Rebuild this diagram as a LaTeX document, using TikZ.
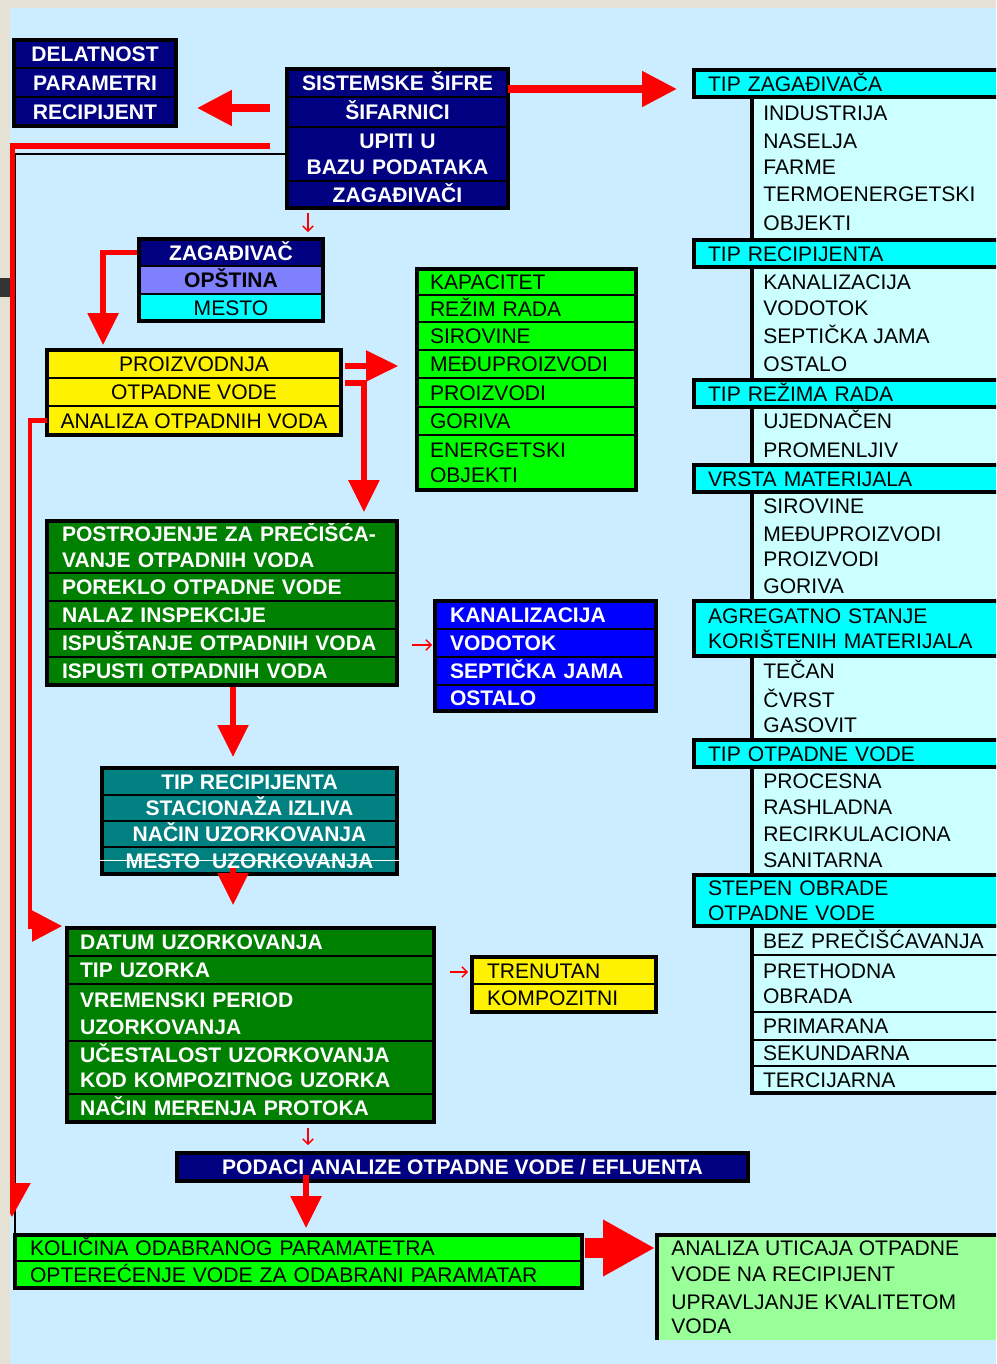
\documentclass[12pt,tikz,border=0pt]{standalone}
\usepackage{fontspec}
\setmainfont{Liberation Sans}
\usetikzlibrary{arrows.meta,positioning,fit}

\definecolor{skyback}{RGB}{204,236,255}
\definecolor{paper}{RGB}{229,225,212}
\definecolor{navy}{RGB}{0,0,128}
\definecolor{lilac}{RGB}{128,128,255}
\definecolor{aqua}{RGB}{0,255,255}
\definecolor{paleaqua}{RGB}{204,255,255}
\definecolor{lime}{RGB}{0,255,0}
\definecolor{darkgr}{RGB}{0,128,0}
\definecolor{tealgr}{RGB}{0,128,128}
\definecolor{palegr}{RGB}{153,255,153}

\tikzset{
  cell/.style = {draw, line width=0.8pt, inner ysep=0pt, outer sep=0pt, minimum height=0.56cm, text height=8.6pt, text depth=0pt},
  two/.style = {text depth=14.8pt},
  frame/.style = {draw, line width=2.2pt, inner sep=0pt},
  dprcell/.style = {cell, fill=navy, text=white, font=\bfseries, minimum width=3.24cm},
  sifcell/.style = {cell, fill=navy, text=white, font=\bfseries, text width=4.42cm, inner xsep=0pt, align=center},
  zagcell/.style = {cell, minimum width=3.68cm},
  prodcell/.style = {cell, fill=yellow, minimum width=5.88cm},
  capcell/.style = {cell, fill=lime, text width=3.86cm, inner xsep=0.26cm, align=left},
  plantcell/.style = {cell, fill=darkgr, text=white, font=\bfseries, text width=6.4cm, inner xsep=0.3cm, align=left},
  reccell/.style = {cell, fill=blue, text=white, font=\bfseries, text width=3.82cm, inner xsep=0.3cm, align=left},
  sampcell/.style = {cell, fill=tealgr, text=white, font=\bfseries, minimum width=5.9cm},
  datecell/.style = {cell, fill=darkgr, text=white, font=\bfseries, text width=6.82cm, inner xsep=0.26cm, align=left},
  kindcell/.style = {cell, fill=yellow, text width=3.08cm, inner xsep=0.3cm, align=left},
  loadcell/.style = {cell, fill=lime, text width=10.74cm, inner xsep=0.3cm, align=left},
  headcell/.style = {cell, fill=aqua, line width=2.2pt, text width=5.76cm, inner xsep=0.28cm, align=left},
  listcell/.style = {fill=paleaqua, minimum width=5.16cm, inner sep=0pt, outer sep=0pt},
  gradecell/.style = {cell, fill=paleaqua, text width=4.72cm, inner xsep=0.22cm, align=left},
  item/.style = {anchor=west, inner sep=0pt, text height=8.6pt, text depth=0pt},
  rule/.style = {line width=2.6pt},
  bigarrow/.style = {red, line width=4.5pt, -{Triangle[length=0.7cm, width=0.68cm]}},
  redarrow/.style = {red, line width=3.2pt, -{Triangle[length=0.64cm, width=0.6cm]}},
  smallarrow/.style = {red, line width=0.8pt, -{Straight Barb[length=3pt, width=6pt]}}
}

\begin{document}
\begin{tikzpicture}[x=0.02cm, y=-0.02cm]
\useasboundingbox (0,0) rectangle (996,1364);
\clip (0,0) rectangle (996,1364);
\fill[skyback] (0,0) rectangle (996,1364);

% right column
\node[listcell, minimum height=2.86cm] (lzag) at (881,168.5) {};
\node[listcell, minimum height=2.26cm] (lrec) at (881,323.5) {};
\node[listcell, minimum height=1.16cm] (lrezim) at (881,436) {};
\node[listcell, minimum height=2.18cm] (lvrsta) at (881,546.5) {};
\node[listcell, minimum height=1.68cm] (lagreg) at (881,698) {};
\node[listcell, minimum height=2.16cm] (lotpad) at (881,821) {};
\node[gradecell, minimum height=0.58cm] (bezpr) at (881,940.5) {BEZ PREČIŠĆAVANJA};
\node[gradecell, two, minimum height=1.14cm, below=0pt of bezpr] (prethodna) {PRETHODNA\\OBRADA};
\node[gradecell, below=0pt of prethodna] (primarna) {PRIMARANA};
\node[gradecell, minimum height=0.52cm, below=0pt of primarna] (sekundarna) {SEKUNDARNA};
\node[gradecell, minimum height=0.54cm, below=0pt of sekundarna] (tercijarna) {TERCIJARNA};

\draw[rule] (lzag.north west) -- (lzag.south west);
\draw[rule] (lrec.north west) -- (lrec.south west);
\draw[rule] (lrezim.north west) -- (lrezim.south west);
\draw[rule] (lvrsta.north west) -- (lvrsta.south west);
\draw[rule] (lagreg.north west) -- (lagreg.south west);
\draw[rule] (lotpad.north west) -- (lotpad.south west);
\draw[rule] (bezpr.north west) |- (tercijarna.south east);

\node[item] (industrija) at (763,113) {INDUSTRIJA};
\node[item] (naselja) at (763,141) {NASELJA};
\node[item] (farme) at (763,167) {FARME};
\node[item] (termo) at (763,194) {TERMOENERGETSKI};
\node[item] (objekti) at (763,223) {OBJEKTI};
\node[item] (kanal2) at (763,282) {KANALIZACIJA};
\node[item] (vodotok2) at (763,308) {VODOTOK};
\node[item] (septicka2) at (763,336) {SEPTIČKA JAMA};
\node[item] (ostalo2) at (763,364) {OSTALO};
\node[item] (ujednacen) at (763,421) {UJEDNAČEN};
\node[item] (promenljiv) at (763,450) {PROMENLJIV};
\node[item] (sirovine2) at (763,506) {SIROVINE};
\node[item] (medju2) at (763,534) {MEĐUPROIZVODI};
\node[item] (proizvodi2) at (763,559) {PROIZVODI};
\node[item] (goriva2) at (763,586) {GORIVA};
\node[item] (tecan) at (763,671) {TEČAN};
\node[item] (cvrst) at (763,700) {ČVRST};
\node[item] (gasovit) at (763,725) {GASOVIT};
\node[item] (procesna) at (763,781) {PROCESNA};
\node[item] (rashladna) at (763,807) {RASHLADNA};
\node[item] (recirk) at (763,834) {RECIRKULACIONA};
\node[item] (sanitarna) at (763,860) {SANITARNA};

\node[headcell, minimum height=0.54cm] (hzag) at (852,83.5) {TIP ZAGAĐIVAČA};
\node[headcell, minimum height=0.54cm] (hrec) at (852,253.5) {TIP RECIPIJENTA};
\node[headcell, minimum height=0.54cm] (hrezim) at (852,393.5) {TIP REŽIMA RADA};
\node[headcell, minimum height=0.54cm] (hvrsta) at (852,478.5) {VRSTA MATERIJALA};
\node[headcell, two, minimum height=1.1cm] (hagreg) at (852,628.5) {AGREGATNO STANJE\\KORIŠTENIH MATERIJALA};
\node[headcell, minimum height=0.54cm] (hotpad) at (852,753.5) {TIP OTPADNE VODE};
\node[headcell, two, minimum height=1.02cm] (hstepen) at (852,900.5) {STEPEN OBRADE\\OTPADNE VODE};

% left column
\node[dprcell] (delatnost) at (95,54) {DELATNOST};
\node[dprcell, minimum height=0.58cm, below=0pt of delatnost] (parametri) {PARAMETRI};
\node[dprcell, minimum height=0.58cm, below=0pt of parametri] (recipijent) {RECIPIJENT};
\node[frame, fit=(delatnost)(recipijent)] (dprbox) {};

\node[sifcell] (sistemske) at (397.5,83) {SISTEMSKE ŠIFRE};
\node[sifcell, minimum height=0.6cm, below=0pt of sistemske] (sifarnici) {ŠIFARNICI};
\node[sifcell, two, minimum height=1.08cm, below=0pt of sifarnici] (upiti) {UPITI U\\BAZU PODATAKA};
\node[sifcell, minimum height=0.54cm, below=0pt of upiti] (zagadjivaci) {ZAGAĐIVAČI};
\node[frame, fit=(sistemske)(zagadjivaci)] (sifbox) {};

\node[zagcell, fill=navy, text=white, font=\bfseries, minimum height=0.54cm] (zagadjivac) at (231,252.5) {ZAGAĐIVAČ};
\node[zagcell, fill=lilac, font=\bfseries, below=0pt of zagadjivac] (opstina) {OPŠTINA};
\node[zagcell, fill=aqua, minimum height=0.54cm, below=0pt of opstina] (mesto) {MESTO};
\node[frame, fit=(zagadjivac)(mesto)] (zagbox) {};

\node[prodcell] (proizvodnja) at (194,364) {PROIZVODNJA};
\node[prodcell, below=0pt of proizvodnja] (otpadne) {OTPADNE VODE};
\node[prodcell, minimum height=0.58cm, below=0pt of otpadne] (analiza) {ANALIZA OTPADNIH VODA};
\node[frame, fit=(proizvodnja)(analiza)] (prodbox) {};

\node[capcell, minimum height=0.52cm] (kapacitet) at (526.5,282) {KAPACITET};
\node[capcell, minimum height=0.54cm, below=0pt of kapacitet] (rezim) {REŽIM RADA};
\node[capcell, below=0pt of rezim] (sirovine) {SIROVINE};
\node[capcell, below=0pt of sirovine] (medjuproiz) {MEĐUPROIZVODI};
\node[capcell, minimum height=0.58cm, below=0pt of medjuproiz] (proizvodi) {PROIZVODI};
\node[capcell, below=0pt of proizvodi] (goriva) {GORIVA};
\node[capcell, two, minimum height=1.1cm, below=0pt of goriva] (energetski) {ENERGETSKI\\OBJEKTI};
\node[frame, fit=(kapacitet)(energetski)] (capbox) {};

\node[plantcell, two, minimum height=1.04cm] (postrojenje) at (222,547) {POSTROJENJE ZA PREČIŠĆA-\\VANJE OTPADNIH VODA};
\node[plantcell, below=0pt of postrojenje] (poreklo) {POREKLO OTPADNE VODE};
\node[plantcell, below=0pt of poreklo] (nalaz) {NALAZ INSPEKCIJE};
\node[plantcell, below=0pt of nalaz] (ispustanje) {ISPUŠTANJE OTPADNIH VODA};
\node[plantcell, below=0pt of ispustanje] (ispusti) {ISPUSTI OTPADNIH VODA};
\node[frame, fit=(postrojenje)(ispusti)] (plantbox) {};

\node[reccell] (kanalizacija) at (545.5,615) {KANALIZACIJA};
\node[reccell, below=0pt of kanalizacija] (vodotok) {VODOTOK};
\node[reccell, below=0pt of vodotok] (septicka) {SEPTIČKA JAMA};
\node[reccell, minimum height=0.52cm, below=0pt of septicka] (ostalo) {OSTALO};
\node[frame, fit=(kanalizacija)(ostalo)] (recbox) {};

\node[sampcell, minimum height=0.54cm] (tiprec) at (249.5,781.5) {TIP RECIPIJENTA};
\node[sampcell, minimum height=0.52cm, below=0pt of tiprec] (stacionaza) {STACIONAŽA IZLIVA};
\node[sampcell, minimum height=0.52cm, below=0pt of stacionaza] (nacinuz) {NAČIN UZORKOVANJA};
\node[sampcell, minimum height=0.54cm, below=0pt of nacinuz] (mestouz) {MESTO~ UZORKOVANJA};
\node[frame, fit=(tiprec)(mestouz)] (sampbox) {};
\draw[white, line width=0.6pt] ([xshift=-0.04cm]mestouz.west) -- ([xshift=0.04cm]mestouz.east);

\node[datecell] (datumuz) at (250.5,942) {DATUM UZORKOVANJA};
\node[datecell, below=0pt of datumuz] (tipuz) {TIP UZORKA};
\node[datecell, two, minimum height=1.14cm, below=0pt of tipuz] (vremenski) {VREMENSKI PERIOD\\[1pt]UZORKOVANJA};
\node[datecell, two, minimum height=1.06cm, below=0pt of vremenski] (ucestalost) {UČESTALOST UZORKOVANJA\\KOD KOMPOZITNOG UZORKA};
\node[datecell, below=0pt of ucestalost] (nacinmer) {NAČIN MERENJA PROTOKA};
\node[frame, fit=(datumuz)(nacinmer)] (datebox) {};

\node[kindcell, minimum height=0.54cm] (trenutan) at (564,970.5) {TRENUTAN};
\node[kindcell, below=0pt of trenutan] (kompozitni) {KOMPOZITNI};
\node[frame, fit=(trenutan)(kompozitni)] (kindbox) {};

\node[cell, fill=navy, text=white, font=\bfseries, minimum width=11.42cm] (podaci) at (462.5,1167) {PODACI ANALIZE OTPADNE VODE / EFLUENTA};
\node[frame, fit=(podaci)] (podbox) {};

\node[loadcell, minimum height=0.52cm] (kolicina) at (298.5,1248) {KOLIČINA ODABRANOG PARAMATETRA};
\node[loadcell, minimum height=0.54cm, below=0pt of kolicina] (opterecenje) {OPTEREĆENJE VODE ZA ODABRANI PARAMATAR};
\node[frame, fit=(kolicina)(opterecenje)] (loadbox) {};

\node[fill=palegr, minimum width=7.06cm, minimum height=2.1cm, inner sep=0pt, outer sep=0pt] (anpanel) at (833.5,1287.5) {};
\draw[line width=2.2pt] (anpanel.south west) -- (anpanel.north west) -- (anpanel.north east);
\node[item] (an1) at (671,1248) {ANALIZA UTICAJA OTPADNE};
\node[item] (an2) at (671,1274) {VODE NA RECIPIJENT};
\node[item] (an3) at (671,1302) {UPRAVLJANJE KVALITETOM};
\node[item] (an4) at (671,1326) {VODA};

% connectors
\coordinate (leftturn) at (12,146);
\coordinate (leftend) at (12,1217);
\coordinate (leftblack) at (15,1235);
\draw[line width=0.6pt] (upiti.west) -| (leftblack);
\draw[red, line width=3pt, -{Triangle[length=0.68cm, width=0.72cm]}, shorten <=0.34cm] (leftturn -| upiti.west) -- (leftturn) -- (leftend);

\draw[bigarrow, shorten <=0.34cm, shorten >=0.38cm] ([yshift=0.08cm]sifarnici.west) -- ([yshift=0.08cm]sifarnici.west -| dprbox.east);
\draw[bigarrow, shorten >=0.34cm] ([yshift=-0.12cm]sistemske.east) -- ([yshift=-0.12cm]sistemske.east -| hzag.west);
\draw[smallarrow, shorten <=0.06cm, shorten >=0.1cm] ([xshift=-1.79cm]sifbox.south) -- ([xshift=-1.79cm]sifbox.south |- zagbox.north);

\draw[redarrow, shorten <=0.04cm, shorten >=0.06cm] (zagadjivac.west) -| ([xshift=1.16cm]prodbox.north west);
\draw[redarrow, shorten <=0.08cm, shorten >=0.34cm] ([yshift=-0.04cm]proizvodnja.east) -- ([yshift=-0.04cm]proizvodnja.east -| capbox.west);
\draw[redarrow, shorten <=0.08cm, shorten >=0.14cm] ([yshift=0.18cm]otpadne.east) -| ([xshift=-0.7cm]plantbox.north east);
\draw[red, line width=2.8pt, -{Triangle[length=0.6cm, width=0.6cm]}, shorten >=0.06cm] (analiza.west) -- ++(-17,0) |- (datebox.north west);

\draw[smallarrow, shorten <=0.3cm, shorten >=0.02cm] ([yshift=-0.04cm]ispustanje.east) -- ([yshift=-0.04cm]ispustanje.east -| recbox.west);
\draw[redarrow, shorten >=0.18cm] ([xshift=0.22cm]plantbox.south) -- ([xshift=0.22cm]plantbox.south |- sampbox.north);
\draw[redarrow, shorten >=0.42cm] ([xshift=-0.33cm, yshift=0.16cm]sampbox.south) -- ([xshift=-0.33cm]sampbox.south |- datebox.north);

\draw[smallarrow, shorten <=0.32cm, shorten >=0.04cm] ([yshift=-0.04cm]tipuz.east) -- ([yshift=-0.04cm]tipuz.east -| kindbox.west);
\draw[smallarrow, shorten <=0.08cm, shorten >=0.12cm] ([xshift=1.15cm]datebox.south) -- ([xshift=1.15cm]datebox.south |- podbox.north);
\draw[redarrow, shorten >=0.1cm] ([xshift=-3.13cm, yshift=0.16cm]podbox.south) -- ([xshift=-3.13cm]podbox.south |- loadbox.north);
\draw[red, line width=11pt, -{Triangle[length=1.04cm, width=1.06cm]}, shorten <=0.06cm, shorten >=0.04cm] (kolicina.east) -- (kolicina.east -| anpanel.west);

% page edge
\fill[paper] (0,0) rectangle (10,1364);
\fill[paper] (0,0) rectangle (996,8);
\fill[black!80] (0,278) rectangle (10,297);
\end{tikzpicture}
\end{document}
